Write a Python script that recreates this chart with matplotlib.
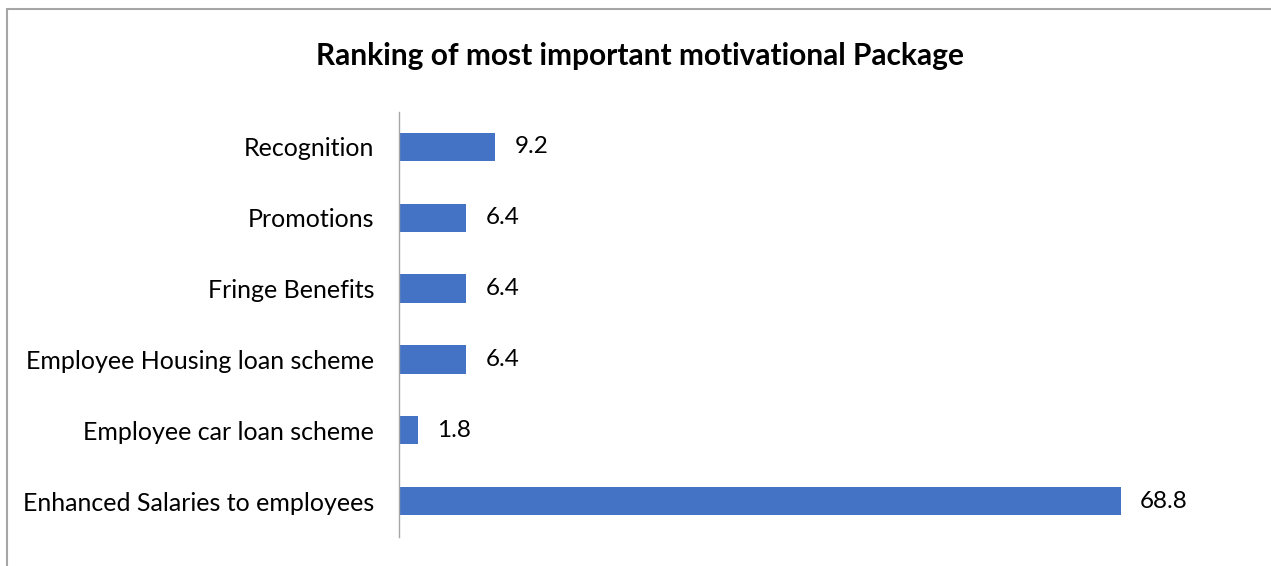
import matplotlib
matplotlib.use("Agg")
import matplotlib.pyplot as plt
from matplotlib.patches import Rectangle

categories = ["Enhanced Salaries to employees", "Employee car loan scheme",
              "Employee Housing loan scheme", "Fringe Benefits", "Promotions", "Recognition"]
values = [68.8, 1.8, 6.4, 6.4, 6.4, 9.2]
title = "Ranking of most important motivational Package"

plt.rcParams['font.family'] = ['Lato', 'DejaVu Sans']
W, H = 1271, 566
fig = plt.figure(figsize=(W / 100, H / 100), dpi=100)
fig.patch.set_facecolor('white')

# outer chart border (top/left visible)
fig.patches.append(Rectangle((6.5 / W, -0.1), 1.2, 1 - 8.5 / H + 0.1, transform=fig.transFigure,
                             fill=False, edgecolor='#a6a6a6', linewidth=1.5))

left, right = 399 / W, 1238 / W
bottom, top = 1 - 536.5 / H, 1 - 111.5 / H
ax = fig.add_axes([left, bottom, right - left, top - bottom])
y = range(len(categories))
bars = ax.barh(y, values, height=0.4, color='#4472c4')
ax.set_xlim(0, 80)
ax.set_ylim(-0.5, len(categories) - 0.5)
ax.set_yticks(list(y))
ax.set_yticklabels(categories, fontsize=18)
ax.set_xticks([])
ax.tick_params(axis='y', length=0, pad=18)
for s in ['top', 'right', 'bottom']:
    ax.spines[s].set_visible(False)
ax.spines['left'].set_color('#a6a6a6')
ax.spines['left'].set_linewidth(1)
for yi, v in zip(y, values):
    ax.annotate(f"{v}", (v, yi), xytext=(14, 0), textcoords='offset points',
                va='center', ha='left', fontsize=17.5)
fig.text(640 / W, 1 - 56 / H, title, ha='center', va='center', fontsize=21.5, fontweight='bold')
fig.savefig("out.png", dpi=100)
